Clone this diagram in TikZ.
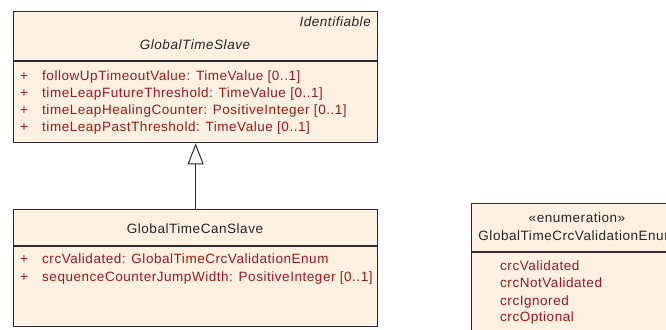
\documentclass[tikz,border=0pt]{standalone}
\usepackage{fontspec}
\setmainfont{Liberation Sans}[LetterSpace=4]
\usetikzlibrary{arrows.meta}
\definecolor{boxfill}{HTML}{FBF0E2}
\definecolor{attr}{HTML}{9E1A1A}
\definecolor{edge}{HTML}{2B2B2B}
\begin{document}
\begin{tikzpicture}[x=1pt,y=-1pt,
  box/.style={draw=edge, line width=1.3pt, fill=boxfill, inner sep=0pt, anchor=north west},
  txt/.style={inner sep=0pt, font=\fontsize{13.5}{16}\selectfont, anchor=base west, text=black!85},
  attrtxt/.style={txt, text=attr},
  divider/.style={draw=edge, line width=1.3pt}]
\useasboundingbox (0,0) rectangle (666,329);
\clip (0,0) rectangle (666,329);
% GlobalTimeSlave
\node[box, minimum width=364pt, minimum height=131pt] (slave) at (13,11) {};
\draw[divider] ([yshift=-50pt]slave.north west) -- ([yshift=-50pt]slave.north east);
\node[txt, anchor=base east, font=\fontsize{13.5}{16}\selectfont\itshape] (ident) at (371,26.7) {Identifiable};
\node[txt, anchor=base, font=\fontsize{13.5}{16}\selectfont\itshape] (slavename) at (195,49) {GlobalTimeSlave};
\node[attrtxt] (p1) at (20,80) {+};
\node[attrtxt] (a1) at (42,80) {followUpTimeoutValue: TimeValue [0..1]};
\node[attrtxt] (p2) at (20,97) {+};
\node[attrtxt] (a2) at (42,97) {timeLeapFutureThreshold: TimeValue [0..1]};
\node[attrtxt] (p3) at (20,114) {+};
\node[attrtxt] (a3) at (42,114) {timeLeapHealingCounter: PositiveInteger [0..1]};
\node[attrtxt] (p4) at (20,131) {+};
\node[attrtxt] (a4) at (42,131) {timeLeapPastThreshold: TimeValue [0..1]};
% GlobalTimeCanSlave
\node[box, minimum width=364pt, minimum height=117pt] (can) at (13,209) {};
\draw[divider] ([yshift=-37pt]can.north west) -- ([yshift=-37pt]can.north east);
\node[txt, anchor=base] (canname) at (195,233.7) {GlobalTimeCanSlave};
\node[attrtxt] (p5) at (20,263) {+};
\node[attrtxt] (a5) at (42,263) {crcValidated: GlobalTimeCrcValidationEnum};
\node[attrtxt] (p6) at (20,281) {+};
\node[attrtxt] (a6) at (42,281) {sequenceCounterJumpWidth: PositiveInteger [0..1]};
% generalization
\draw[draw=edge, line width=1pt, -{Triangle[open, length=21pt, width=16pt, fill=white]}] (can.north) -- (slave.south);
% Enumeration
\node[box, minimum width=212pt, minimum height=140pt] (enum) at (471,203) {};
\draw[divider] ([yshift=-49pt]enum.north west) -- ([yshift=-49pt]enum.north east);
\node[txt, anchor=base] (stereo) at (577,222.7) {«enumeration»};
\node[txt, anchor=base] (enumname) at (577,240.7) {GlobalTimeCrcValidationEnum};
\node[attrtxt] (l1) at (500,270) {crcValidated};
\node[attrtxt] (l2) at (500,287.7) {crcNotValidated};
\node[attrtxt] (l3) at (500,305) {crcIgnored};
\node[attrtxt] (l4) at (500,321.7) {crcOptional};
\end{tikzpicture}
\end{document}
